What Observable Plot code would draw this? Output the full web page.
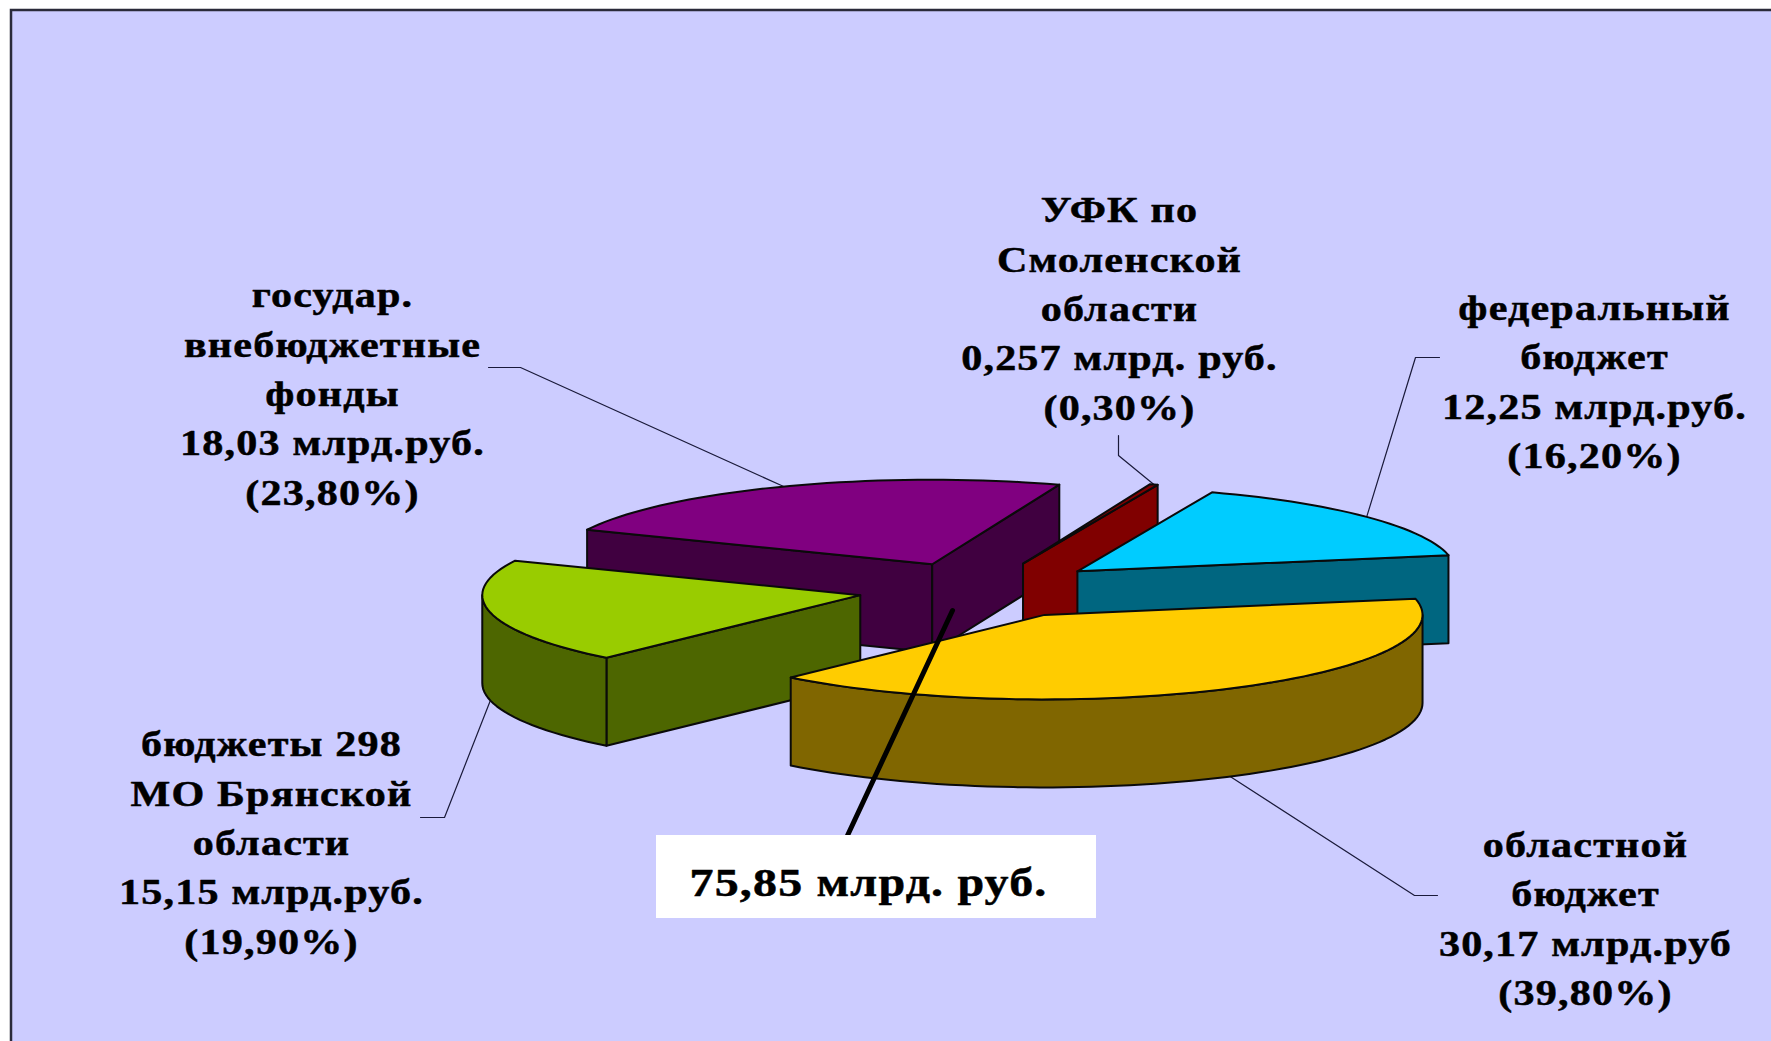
<!DOCTYPE html>
<html><head><meta charset="utf-8">
<script src="https://cdn.jsdelivr.net/npm/d3@7"></script>
<script src="https://cdn.jsdelivr.net/npm/@observablehq/plot@0.6"></script>
<style>html,body{margin:0;padding:0;background:#fff;overflow:hidden}svg{display:block}</style>
</head><body>
<script>
// Data
const budgets = ["областной бюджет","бюджеты 298 МО Брянской области","государ. внебюджетные фонды","УФК по Смоленской области","федеральный бюджет"];
const amounts = [30.17,15.15,18.03,0.257,12.25];
const labels = [
  ["областной","бюджет","30,17 млрд.руб","(39,80%)"],
  ["бюджеты 298","МО Брянской","области","15,15 млрд.руб.","(19,90%)"],
  ["государ.","внебюджетные","фонды","18,03 млрд.руб.","(23,80%)"],
  ["УФК по","Смоленской","области","0,257 млрд. руб.","(0,30%)"],
  ["федеральный","бюджет","12,25 млрд.руб.","(16,20%)"]
];
const totalLabel = "75,85 млрд. руб.";
// Styles
const topColors  = ["#FFCC00","#99CC00","#800080","#800000","#00CCFF"];
const wallColors = ["#806600","#4D6600","#400040","#800000","#006680"];
const paintOrder = [2,3,4,1,0];
// Layout (pixels of the picture)
const W = 1771, H = 1041;
const cx = 980, cy = 589, rx = 378, ry = 84.5, depth = 88, startDeg = -11;
const explode = [0.345,0.325,0.325,0.325,0.335];
const labelX = [1585,271,332,1119,1594];
const labelY = [919,843,394,309,382];
const lineStep = 49.4, stretch = 1.17;
const elbows = [[[1414,895],[1437,895]],[[444,817],[420,817]],[[520,367],[488,367]],[[1118,455],[1118,435]],[[1415,357],[1439,357]]];

const arcs = d3.pie().sort(null).value(d=>d).startAngle(startDeg*Math.PI/180).endAngle(startDeg*Math.PI/180+2*Math.PI)(amounts);
const slices = arcs.map((a,i)=>{
  const mid=(a.startAngle+a.endAngle)/2;
  const ox=cx+explode[i]*rx*Math.cos(mid), oy=cy+explode[i]*ry*Math.sin(mid);
  const pt=(t,dz=0)=>({x:ox+rx*Math.cos(t),y:oy+ry*Math.sin(t)+dz});
  return {i,a0:a.startAngle,a1:a.endAngle,mid,ox,oy,pt};
});
const arcPts=(s,a0,a1,dz=0)=>{
  const n=Math.max(2,Math.ceil((a1-a0)/(Math.PI/90)));
  return d3.range(n+1).map(k=>s.pt(a0+(a1-a0)*k/n,dz));
};
const poly=(pts,fill,sw=2)=>Plot.line(pts,{x:"x",y:"y",fill,stroke:"#0a0a0a",strokeWidth:sw,curve:"linear-closed",strokeLinejoin:"round"});
const seg=(pts,sw,stroke="#1a1a3a")=>Plot.line(pts,{x:"x",y:"y",stroke,strokeWidth:sw,curve:"linear"});

const sliceMarks=paintOrder.flatMap(i=>{
  const s=slices[i], m=[], wall=wallColors[i];
  const apex={x:s.ox,y:s.oy}, apexB={x:s.ox,y:s.oy+depth};
  if(-Math.cos(s.a0)>0){m.push(poly([apex,s.pt(s.a0),s.pt(s.a0,depth),apexB],wall));}
  if(Math.cos(s.a1)>0){m.push(poly([apex,s.pt(s.a1),s.pt(s.a1,depth),apexB],wall));}
  const r0=Math.max(s.a0,0), r1=Math.min(s.a1,Math.PI);
  if(r1>r0){m.push(poly([...arcPts(s,r0,r1),...arcPts(s,r0,r1,depth).reverse()],wall));}
  m.push(poly([apex,...arcPts(s,s.a0,s.a1)],topColors[i]));
  return m;
});

const leaderMarks=slices.map(s=>{
  const front=Math.sin(s.mid)>0;
  const start=s.pt(s.mid,front?depth:0);
  return seg([start,...elbows[s.i].map(([x,y])=>({x,y}))],1.2);
});

const textRows=labels.flatMap((lines,i)=>lines.map((t,k)=>({t,x:labelX[i],y:labelY[i]+(k-(lines.length-1)/2)*lineStep})));

const plot=Plot.plot({
  width:W,height:H,margin:0,
  x:{domain:[0,W],range:[0,W],axis:null},
  y:{domain:[0,H],range:[0,H],axis:null},
  style:{background:"#fff"},
  marks:[
    Plot.rect([0],{x1:()=>11,x2:()=>W+10,y1:()=>10,y2:()=>H+10,fill:"#CCCCFF",stroke:"#2a2a3a",strokeWidth:2.5}),
    ...leaderMarks,
    ...sliceMarks,
    seg([{x:952,y:610},{x:847,y:835}],5,"#000"),
    Plot.rect([0],{x1:()=>656,x2:()=>1096,y1:()=>835,y2:()=>918,fill:"#fff"}),
    Plot.text(textRows,{x:"x",y:"y",text:"t",fontFamily:"Liberation Serif",fontWeight:"bold",fontSize:36,fill:"#000",stroke:"#000",strokeWidth:0.5,textAnchor:"middle",lineAnchor:"middle"}),
    Plot.text([totalLabel],{x:()=>868,y:()=>882,text:d=>d,fontFamily:"Liberation Serif",fontWeight:"bold",fontSize:41,fill:"#000",stroke:"#000",strokeWidth:0.5,textAnchor:"middle",lineAnchor:"middle"})
  ]
});
plot.style.letterSpacing="1px";
document.body.appendChild(plot);
plot.querySelectorAll("text").forEach(t=>{
  const len=t.getComputedTextLength();
  t.setAttribute("textLength",(len*stretch).toFixed(1));
  t.setAttribute("lengthAdjust","spacingAndGlyphs");
});
</script>
</body></html>
